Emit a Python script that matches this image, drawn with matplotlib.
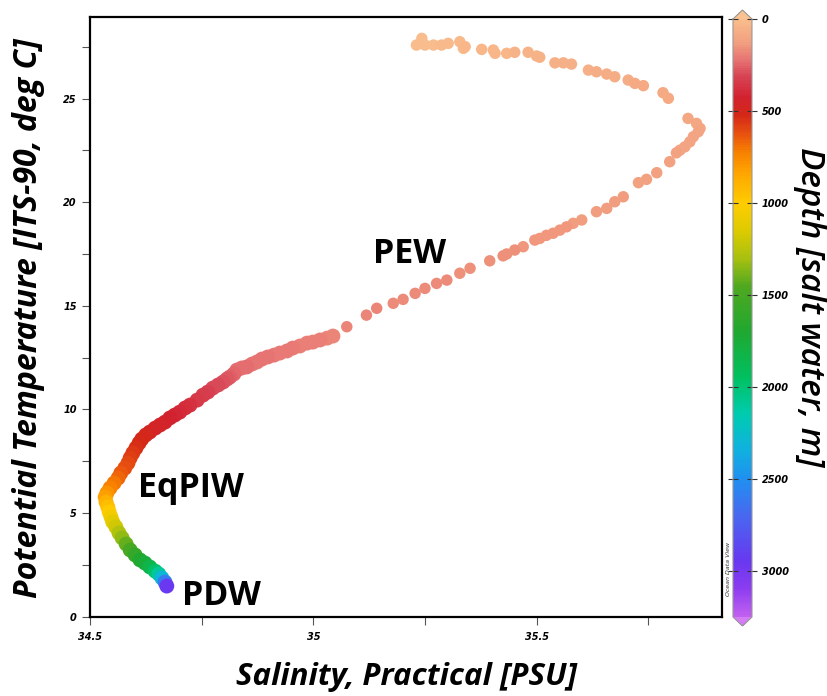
import matplotlib.pyplot as plt
from matplotlib.colors import LinearSegmentedColormap, Normalize
from matplotlib.ticker import MultipleLocator

# salinity / potential temperature / depth along the cast (surface first)
salinity = [
    35.243, 35.231, 35.250, 35.269, 35.287, 35.302, 35.328, 35.336, 35.340, 35.377,
    35.403, 35.407, 35.433, 35.451, 35.481, 35.500, 35.507, 35.541, 35.560, 35.578,
    35.616, 35.634, 35.657, 35.675, 35.705, 35.720, 35.739, 35.783, 35.795, 35.839,
    35.858, 35.866, 35.862, 35.851, 35.843, 35.832, 35.821, 35.813, 35.798, 35.769,
    35.746, 35.728, 35.694, 35.675, 35.657, 35.634, 35.601, 35.582, 35.567, 35.552,
    35.537, 35.522, 35.507, 35.496, 35.470, 35.451, 35.433, 35.425, 35.395, 35.351,
    35.328, 35.299, 35.276, 35.250, 35.228, 35.201, 35.179, 35.142, 35.119, 35.075,
    35.044, 35.031, 35.015, 34.999, 34.986, 34.970, 34.954, 34.941, 34.925, 34.912,
    34.898, 34.885, 34.874, 34.863, 34.851, 34.840, 34.829, 34.822, 34.813, 34.807,
    34.798, 34.787, 34.775, 34.764, 34.753, 34.740, 34.724, 34.713, 34.701, 34.690,
    34.679, 34.668, 34.657, 34.646, 34.634, 34.625, 34.616, 34.610, 34.603, 34.596,
    34.590, 34.585, 34.578, 34.569, 34.563, 34.554, 34.545, 34.538, 34.534, 34.536,
    34.540, 34.543, 34.547, 34.551, 34.558, 34.565, 34.572, 34.581, 34.590, 34.601,
    34.612, 34.623, 34.634, 34.646, 34.654, 34.661, 34.668, 34.672,
]
temperature = [
    27.90, 27.58, 27.58, 27.58, 27.58, 27.66, 27.74, 27.42, 27.50, 27.37,
    27.34, 27.18, 27.18, 27.23, 27.23, 27.05, 26.99, 26.72, 26.72, 26.66,
    26.37, 26.29, 26.18, 26.05, 25.89, 25.73, 25.62, 25.28, 25.01, 24.04,
    23.80, 23.56, 23.40, 23.16, 22.91, 22.67, 22.51, 22.38, 21.95, 21.42,
    21.10, 20.94, 20.26, 20.02, 19.70, 19.54, 19.14, 18.98, 18.81, 18.65,
    18.50, 18.40, 18.25, 18.17, 17.85, 17.69, 17.50, 17.41, 17.17, 16.81,
    16.57, 16.24, 16.08, 15.84, 15.60, 15.31, 15.12, 14.88, 14.55, 13.99,
    13.54, 13.44, 13.35, 13.25, 13.20, 13.06, 12.96, 12.82, 12.72, 12.62,
    12.53, 12.43, 12.29, 12.19, 12.05, 12.00, 11.90, 11.71, 11.56, 11.47,
    11.32, 11.18, 11.03, 10.84, 10.69, 10.45, 10.21, 10.07, 9.87, 9.73,
    9.59, 9.39, 9.25, 9.10, 8.91, 8.77, 8.57, 8.38, 8.14, 7.90,
    7.66, 7.41, 7.17, 6.93, 6.69, 6.45, 6.21, 5.97, 5.77, 5.53,
    5.29, 5.05, 4.81, 4.57, 4.33, 4.04, 3.80, 3.51, 3.22, 2.98,
    2.74, 2.59, 2.40, 2.20, 2.06, 1.87, 1.67, 1.48,
]
depth = [
    2, 5, 8, 11, 14, 17, 20, 23, 26, 29,
    32, 35, 38, 41, 44, 47, 50, 53, 56, 59,
    62, 65, 68, 71, 74, 77, 80, 84, 88, 92,
    96, 99, 102, 105, 108, 111, 114, 117, 120, 122,
    124, 126, 128, 130, 132, 134, 136, 138, 140, 142,
    144, 146, 148, 150, 152, 154, 156, 158, 160, 162,
    164, 166, 168, 170, 172, 174, 176, 178, 180, 183,
    186, 189, 192, 195, 198, 201, 204, 207, 210, 213,
    216, 219, 223, 227, 231, 235, 240, 250, 260, 270,
    280, 292, 304, 318, 332, 350, 370, 385, 400, 412,
    425, 440, 452, 466, 482, 496, 512, 528, 545, 562,
    580, 600, 620, 645, 670, 700, 735, 775, 825, 880,
    940, 1000, 1060, 1120, 1190, 1270, 1340, 1420, 1510, 1590,
    1680, 1750, 1840, 1960, 2090, 2300, 2600, 2950,
]
n_sparse = 70  # first samples are spread out, the rest form a dense trail

labels = [("PEW", 35.134, 17.06), ("EqPIW", 34.607, 5.77), ("PDW", 34.706, 0.56)]

# ODV-like depth palette
cstops = [
    (0, "#F9BC8C"), (120, "#F2A080"), (220, "#E67272"), (300, "#D84656"),
    (420, "#D22230"), (520, "#D42818"), (620, "#E85010"), (720, "#F88000"),
    (850, "#FFAA00"), (1000, "#FFCC00"), (1150, "#DCCB00"), (1300, "#A8C010"),
    (1450, "#50A820"), (1700, "#20A830"), (1950, "#00C060"), (2150, "#00CCB0"),
    (2350, "#10B0E0"), (2500, "#2090F0"), (2700, "#4868F0"), (2950, "#6838F0"),
    (3100, "#8C3CF0"), (3250, "#C060F0"),
]
dmax = 3250
cmap = LinearSegmentedColormap.from_list("odv", [(d / dmax, c) for d, c in cstops])
cmap.set_under("#F9C290")
cmap.set_over("#D47CF4")
norm = Normalize(0, dmax)

fnt = "Open Sans"
fig = plt.figure(figsize=(8.27, 6.96), dpi=100)
ax = fig.add_axes([0.1088, 0.1139, 0.7642, 0.8616])
sc = ax.scatter(salinity[:n_sparse], temperature[:n_sparse], c=depth[:n_sparse],
                cmap=cmap, norm=norm, s=68, edgecolors="none", zorder=3)
ax.scatter(salinity[n_sparse:], temperature[n_sparse:], c=depth[n_sparse:],
           cmap=cmap, norm=norm, s=115, edgecolors="none", zorder=3)

ax.set_xlim(34.5, 35.915)
ax.set_ylim(0, 28.93)
ax.xaxis.set_major_locator(MultipleLocator(0.5))
ax.xaxis.set_minor_locator(MultipleLocator(0.25))
ax.yaxis.set_major_locator(MultipleLocator(5))
ax.yaxis.set_minor_locator(MultipleLocator(2.5))
ax.xaxis.set_major_formatter(lambda v, p: f"{v:g}")
ax.tick_params(which="both", direction="out", length=6, width=0.8, color="#555555")
ax.tick_params(axis="x", pad=5)
for lab in ax.get_xticklabels() + ax.get_yticklabels():
    lab.set_fontsize(7)
    lab.set_fontweight("bold")
    lab.set_fontstyle("italic")
for sp in ax.spines.values():
    sp.set_linewidth(1.6)

for txt, x, y in labels:
    ax.text(x, y, txt, fontsize=24.5, fontweight="bold", family=fnt, va="baseline", zorder=4)

fig.text(0.034, 0.543, "Potential Temperature [ITS-90, deg C]", rotation=90,
         ha="center", va="center", fontsize=23, fontweight="bold", style="italic", family=fnt)
fig.text(0.492, 0.028, "Salinity, Practical [PSU]", ha="center", va="center",
         fontsize=22.5, fontweight="bold", style="italic", family=fnt)

cax = fig.add_axes([0.8863, 0.1006, 0.023, 0.885])
cb = fig.colorbar(sc, cax=cax, extend="both", extendfrac=0.015)
cax.invert_yaxis()
cb.set_ticks([0, 500, 1000, 1500, 2000, 2500, 3000])
cb.outline.set_edgecolor("#999999")
cb.outline.set_linewidth(0.8)
cax.tick_params(left=True, right=True, direction="inout", length=7, width=0.8,
                color="#333333", labelsize=7)
for lab in cax.get_yticklabels():
    lab.set_fontweight("bold")
    lab.set_fontstyle("italic")
fig.text(0.979, 0.559, "Depth [salt water, m]", rotation=270, ha="center", va="center",
         fontsize=24, fontweight="semibold", style="italic", family=fnt)
fig.text(0.881, 0.182, "Ocean Data View", rotation=90, ha="center", va="center",
         fontsize=4.5, style="italic", color="#333333")

fig.savefig("out.png", dpi=100)
